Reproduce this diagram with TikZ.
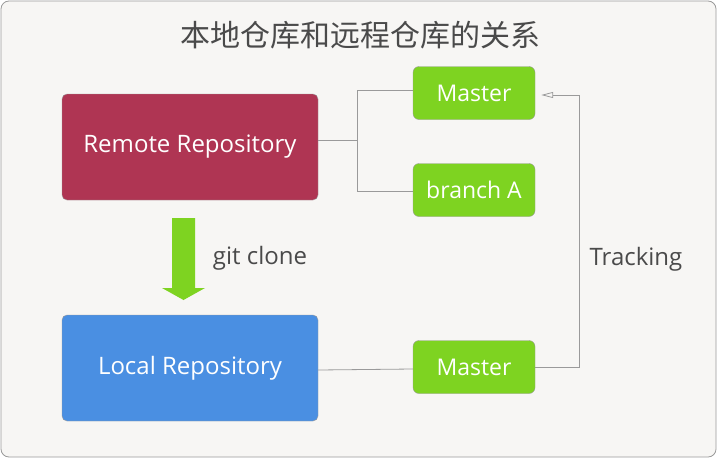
\documentclass[tikz,border=0pt]{standalone}
\usepackage{fontspec}
\setmainfont{Open Sans}
\newfontfamily\cjk{Noto Sans CJK SC}
\usetikzlibrary{arrows.meta}
\definecolor{bgcol}{HTML}{F7F6F4}
\definecolor{framecol}{HTML}{9A9A9A}
\definecolor{linecol}{HTML}{9A9A9A}
\definecolor{repored}{HTML}{AF3553}
\definecolor{repoblue}{HTML}{4A8FE2}
\definecolor{branchgreen}{HTML}{7ED321}
\definecolor{textgray}{HTML}{4A4A4A}
\tikzset{
  repo/.style={draw=framecol, rounded corners=5pt, minimum width=256pt, minimum height=106pt, text=white, font=\fontsize{24}{28}\selectfont},
  branch/.style={draw=framecol, fill=branchgreen, rounded corners=6pt, minimum width=122pt, minimum height=53pt, text=white, font=\fontsize{23}{27}\selectfont},
  conn/.style={draw=linecol, line width=0.8pt},
  label/.style={text=textgray, font=\fontsize{24}{28}\selectfont}
}
\begin{document}
\begin{tikzpicture}[x=1pt, y=-1pt]
  % frame
  \useasboundingbox (0,0) rectangle (717,458);
  \draw[framecol, fill=bgcol, rounded corners=8pt, line width=0.8pt] (1,1) rectangle (716,457);
  \node[text=textgray, font=\cjk\fontsize{30}{35}\selectfont] (title) at (360,35) {本地仓库和远程仓库的关系};

  % repositories
  \node[repo, fill=repored] (remote) at (190,147) {Remote Repository};
  \node[repo, fill=repoblue] (local) at (190,368) {Local Repository};

  % branches
  \node[branch] (master1) at (474,93) {Master};
  \node[branch] (brancha) at (474,190) {branch A};
  \node[branch] (master2) at (474,367) {Master};

  % connectors
  \coordinate (bus) at (357,140);
  \coordinate (turn) at (579,95);
  \draw[conn] ([yshift=7pt]remote.east) -- (bus) |- ([yshift=3pt]master1.west);
  \draw[conn] (bus) |- ([yshift=-1pt]brancha.west);
  \draw[conn] ([yshift=-2pt]local.east) -- ([yshift=-2pt]master2.west);
  \draw[conn, -{Triangle[open, length=12pt, width=6pt]}] (master2.east) -| (turn) -- ([xshift=6pt, yshift=-2pt]master1.east);
  \node[label] (tracking) at (636,259) {Tracking};

  % git clone arrow
  \fill[branchgreen] (172,218) -- (195,218) -- (195,288) -- (205,288) -- (183.5,300) -- (162,288) -- (172,288) -- cycle;
  \node[label] (clone) at (260,258) {git clone};
\end{tikzpicture}
\end{document}
